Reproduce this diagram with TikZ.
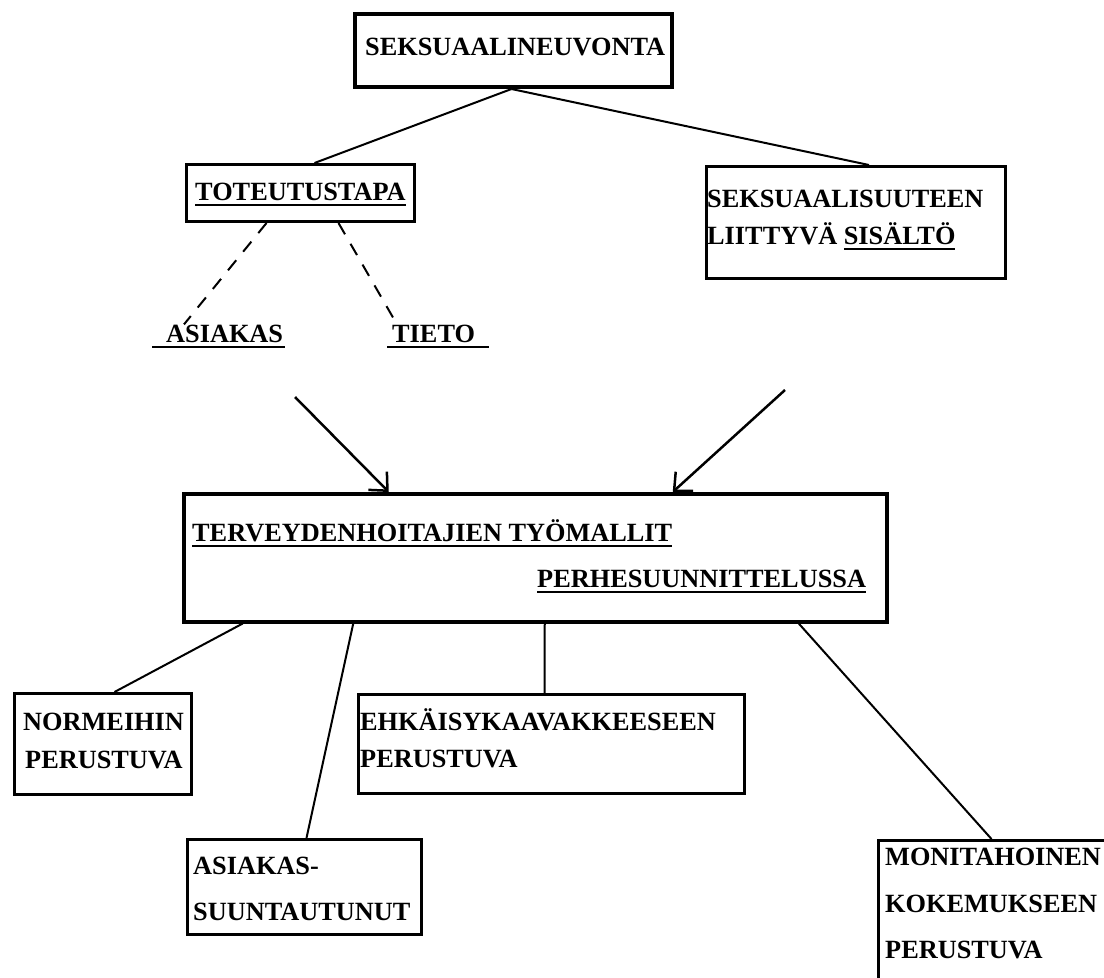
\documentclass[tikz,border=0pt]{standalone}
\usepackage{fontspec}
\setmainfont{Liberation Serif}
\usetikzlibrary{arrows.meta,calc}
\newsavebox\ulbox
\newcommand\myul[1]{\sbox\ulbox{#1}\rlap{\rule[-6pt]{\wd\ulbox}{1.8pt}}\usebox\ulbox}
\newcommand\myulx[3]{\sbox\ulbox{#3}\rlap{\hspace*{-#1}\rule[-6pt]{\dimexpr\wd\ulbox+#1+#2\relax}{1.8pt}}\usebox\ulbox}
\begin{document}
\begin{tikzpicture}[x=1pt,y=-1pt,
  every node/.style={font=\fontsize{26.3}{32}\selectfont\bfseries},
  box/.style={draw, line width=3pt, inner sep=0pt, anchor=north west},
  txt/.style={anchor=base west, inner sep=0pt},
  conn/.style={line width=2pt},
  dsh/.style={line width=2pt, dash pattern=on 13pt off 11pt},
  arr/.style={line width=2.5pt, -{Straight Barb[length=14pt,width=26pt]}}]
\useasboundingbox (0,0) rectangle (1104,978);
\fill[white] (0,0) rectangle (1104,978);
\clip (0,0) rectangle (1104,978);
% boxes
\node[box, line width=4pt, minimum width=317pt, minimum height=73pt] (top) at (353,12) {};
\node[box, minimum width=228pt, minimum height=57pt] (tot) at (185,163) {};
\node[box, minimum width=299pt, minimum height=112pt] (sex) at (705,165) {};
\node[box, line width=3.5pt, minimum width=703pt, minimum height=128pt] (main) at (182,492) {};
\node[box, minimum width=177pt, minimum height=101pt] (norm) at (13,692) {};
\node[box, minimum width=386pt, minimum height=99pt] (ehk) at (357,693) {};
\node[box, minimum width=234pt, minimum height=95pt] (asb) at (186,838) {};
\node[box, minimum width=260pt, minimum height=150pt] (mon) at (877,839) {};
% texts
\node[txt] (topT) at (365,55) {SEKSUAALINEUVONTA};
\node[txt] (totT) at (195,200) {\myul{TOTEUTUSTAPA}};
\node[txt] (sexT1) at (707,207) {SEKSUAALISUUTEEN};
\node[txt] (sexT2) at (707,244) {LIITTYVÄ \myul{SISÄLTÖ}};
\node[txt] (asiL) at (166,342) {\myulx{14pt}{2pt}{ASIAKAS}};
\node[txt] (tieL) at (392,342) {\myulx{5pt}{14pt}{TIETO}};
\node[txt] (mainT1) at (192,541) {\myul{TERVEYDENHOITAJIEN TYÖMALLIT}};
\node[txt] (mainT2) at (537,587) {\myul{PERHESUUNNITTELUSSA}};
\node[txt] (normT1) at (23,730) {NORMEIHIN};
\node[txt] (normT2) at (25,768) {PERUSTUVA};
\node[txt] (ehkT1) at (360,730) {EHKÄISYKAAVAKKEESEEN};
\node[txt] (ehkT2) at (360,767) {PERUSTUVA};
\node[txt] (asbT1) at (193,874) {ASIAKAS-};
\node[txt] (asbT2) at (193,920) {SUUNTAUTUNUT};
\node[txt] (monT1) at (885,865) {MONITAHOINEN};
\node[txt] (monT2) at (885,912) {KOKEMUKSEEN};
\node[txt] (monT3) at (885,958) {PERUSTUVA};
% connectors
\draw[conn] ([xshift=-2pt]top.south) -- ([xshift=14pt]tot.north);
\draw[conn] ([xshift=-2pt]top.south) -- ([xshift=13pt]sex.north);
\draw[dsh] ([xshift=-34pt]tot.south) -- ([xshift=18pt]asiL.north west);
\draw[dsh] ([xshift=38pt]tot.south) -- ([xshift=5pt]tieL.north west);
\coordinate (a1) at (295,397);
\coordinate (a2) at (785,390);
\draw[arr] (a1) -- ([xshift=-146.5pt]main.north);
\draw[arr] (a2) -- ([xshift=137.5pt]main.north);
\draw[conn] ([xshift=-292.5pt]main.south) -- ([xshift=11.5pt]norm.north);
\draw[conn] ([xshift=-182pt]main.south) -- ([xshift=2pt]asb.north);
\draw[conn] ([xshift=9.5pt]main.south) -- ([xshift=-7pt]ehk.north);
\draw[conn] ([xshift=263.5pt]main.south) -- ([xshift=-17pt]mon.north);
\end{tikzpicture}
\end{document}
